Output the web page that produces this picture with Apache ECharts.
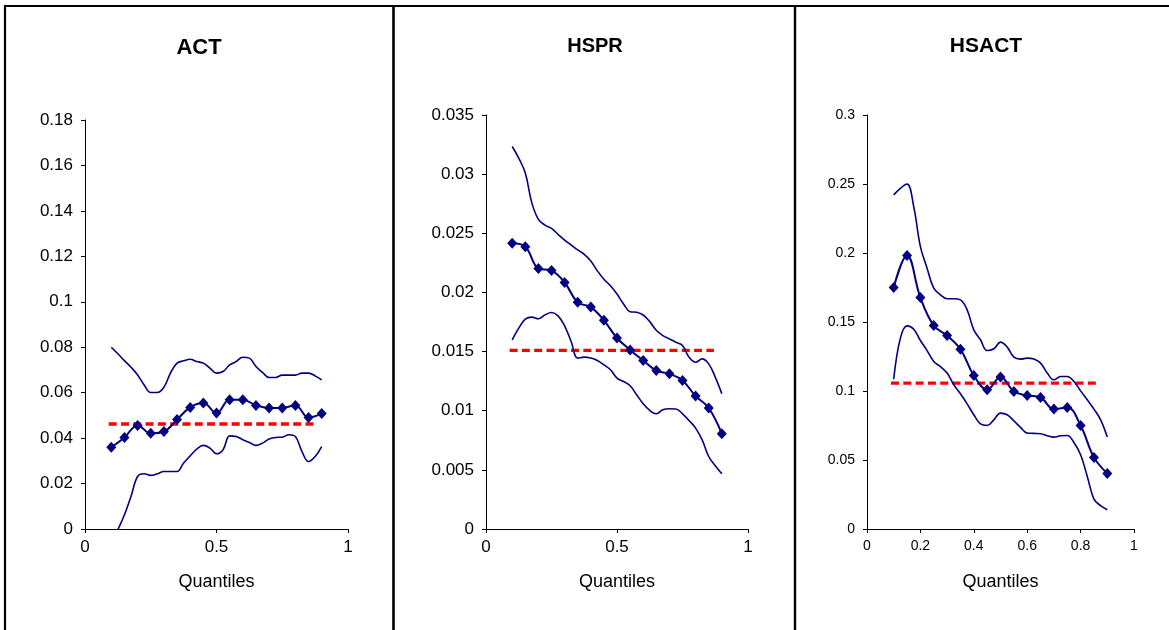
<!DOCTYPE html>
<html>
<head>
<meta charset="utf-8">
<script src="https://cdn.jsdelivr.net/npm/echarts@6/dist/echarts.min.js"></script>
<style>
html,body{margin:0;padding:0;background:#fff;}
#chart{width:1169px;height:630px;}
</style>
</head>
<body>
<div id="chart"></div>
<script>
// ---- data ----
const panelTitles = ['ACT', 'HSPR', 'HSACT'];
const xAxisName = 'Quantiles';

const quantiles = [0.1, 0.15, 0.2, 0.25, 0.3, 0.35, 0.4, 0.45, 0.5, 0.55, 0.6, 0.65, 0.7, 0.75, 0.8, 0.85, 0.9];
const bandQuantiles = [0.1, 0.125, 0.15, 0.175, 0.2, 0.225, 0.25, 0.275, 0.3, 0.325, 0.35, 0.375, 0.4, 0.425, 0.45, 0.475, 0.5, 0.525, 0.55, 0.575, 0.6, 0.625, 0.65, 0.675, 0.7, 0.725, 0.75, 0.775, 0.8, 0.825, 0.85, 0.875, 0.9];
const meanSpan = [0.09, 0.87];

// ACT
const actEstimate = [0.0360, 0.0403, 0.0456, 0.0421, 0.0429, 0.0482, 0.0535, 0.0554, 0.0510, 0.0569, 0.0569, 0.0544, 0.0533, 0.0533, 0.0544, 0.0491, 0.0508];
const actUpper = [0.0800, 0.0771, 0.0741, 0.0712, 0.0678, 0.0634, 0.0601, 0.0601, 0.0624, 0.0686, 0.0730, 0.0740, 0.0747, 0.0737, 0.0730, 0.0708, 0.0686, 0.0693, 0.0722, 0.0737, 0.0756, 0.0752, 0.0715, 0.0689, 0.0667, 0.0667, 0.0677, 0.0677, 0.0677, 0.0686, 0.0686, 0.0674, 0.0656];
const actLower = [-0.0060, -0.0003, 0.0063, 0.0144, 0.0231, 0.0243, 0.0236, 0.0243, 0.0253, 0.0253, 0.0253, 0.0290, 0.0322, 0.0352, 0.0368, 0.0356, 0.0331, 0.0349, 0.0410, 0.0407, 0.0393, 0.0381, 0.0368, 0.0378, 0.0396, 0.0403, 0.0404, 0.0415, 0.0407, 0.0341, 0.0297, 0.0319, 0.0363];
const actMean = 0.0462;

// HSPR
const hsprEstimate = [0.02415, 0.02387, 0.02202, 0.02185, 0.02084, 0.01916, 0.01876, 0.01764, 0.01615, 0.01514, 0.01425, 0.01340, 0.01312, 0.01256, 0.01124, 0.01023, 0.00805];
const hsprUpper = [0.03234, 0.03135, 0.03009, 0.02757, 0.02617, 0.02569, 0.02541, 0.02491, 0.02443, 0.02401, 0.02359, 0.02322, 0.02266, 0.02182, 0.02112, 0.02056, 0.01986, 0.01902, 0.01837, 0.01832, 0.01809, 0.01753, 0.01680, 0.01635, 0.01607, 0.01579, 0.01551, 0.01452, 0.01410, 0.01438, 0.01396, 0.01284, 0.01144];
const hsprLower = [0.01599, 0.01698, 0.01774, 0.01791, 0.01777, 0.01810, 0.01830, 0.01802, 0.01718, 0.01585, 0.01445, 0.01453, 0.01445, 0.01424, 0.01388, 0.01346, 0.01276, 0.01247, 0.01211, 0.01135, 0.01059, 0.01002, 0.00974, 0.01008, 0.01016, 0.01014, 0.00974, 0.00917, 0.00853, 0.00754, 0.00613, 0.00535, 0.00467];
const hsprMean = 0.0151;

// HSACT
const hsactEstimate = [0.1750, 0.1981, 0.1677, 0.1474, 0.1402, 0.1303, 0.1112, 0.1009, 0.1101, 0.0997, 0.0968, 0.0953, 0.0869, 0.0881, 0.0750, 0.0519, 0.0403];
const hsactUpper = [0.2421, 0.2469, 0.2500, 0.2336, 0.2046, 0.1890, 0.1745, 0.1697, 0.1668, 0.1668, 0.1660, 0.1588, 0.1443, 0.1371, 0.1293, 0.1306, 0.1354, 0.1318, 0.1245, 0.1231, 0.1238, 0.1231, 0.1202, 0.1130, 0.1081, 0.1105, 0.1105, 0.1069, 0.1001, 0.0936, 0.0869, 0.0791, 0.0666];
const hsactLower = [0.1086, 0.1383, 0.1472, 0.1448, 0.1366, 0.1293, 0.1214, 0.1177, 0.1130, 0.1045, 0.0980, 0.0907, 0.0828, 0.0762, 0.0750, 0.0791, 0.0840, 0.0828, 0.0784, 0.0736, 0.0695, 0.0693, 0.0690, 0.0676, 0.0666, 0.0676, 0.0678, 0.0627, 0.0538, 0.0381, 0.0217, 0.0169, 0.0140];
const hsactMean = 0.1057;

// axis settings (tick labels)
const yMax = [0.18, 0.035, 0.3];
const yStep = [0.02, 0.005, 0.05];
const xStep = [0.5, 0.5, 0.2];

// ---- build ----
const NAVY = '#000080';
const FONT = '"Liberation Sans", Arial, sans-serif';
const pairs = (xs, ys) => xs.map((x, i) => [x, ys[i]]);

const panels = [
  {est: actEstimate, up: actUpper, lo: actLower, mean: actMean},
  {est: hsprEstimate, up: hsprUpper, lo: hsprLower, mean: hsprMean},
  {est: hsactEstimate, up: hsactUpper, lo: hsactLower, mean: hsactMean}
];

const grids = [
  {left: 85, top: 120, width: 263, height: 409},
  {left: 486, top: 115, width: 262, height: 414},
  {left: 867, top: 115, width: 267, height: 414}
];
const tickFont = [17, 17, 14];

const xAxes = [], yAxes = [], series = [];
panels.forEach((p, i) => {
  xAxes.push({
    type: 'value', gridIndex: i, min: 0, max: 1, interval: xStep[i],
    name: xAxisName, nameLocation: 'middle', nameGap: 44,
    nameTextStyle: {fontFamily: FONT, fontSize: 18, color: '#000'},
    axisLine: {show: true, onZero: false, lineStyle: {color: '#000', width: 1}},
    axisTick: {show: true, length: 4, lineStyle: {color: '#000'}},
    axisLabel: {fontFamily: FONT, fontSize: tickFont[i], color: '#000', margin: 10},
    splitLine: {show: false}
  });
  yAxes.push({
    type: 'value', gridIndex: i, min: 0, max: yMax[i], interval: yStep[i],
    axisLine: {show: true, lineStyle: {color: '#000', width: 1}},
    axisTick: {show: true, length: 4, lineStyle: {color: '#000'}},
    axisLabel: {fontFamily: FONT, fontSize: tickFont[i], color: '#000', margin: 12},
    splitLine: {show: false}
  });
  const common = {xAxisIndex: i, yAxisIndex: i, type: 'line', animation: false, silent: true, clip: true};
  series.push(Object.assign({}, common, {
    data: pairs(bandQuantiles, p.up), smooth: 0.4, showSymbol: false, symbol: 'none',
    lineStyle: {color: NAVY, width: 1.6}
  }));
  series.push(Object.assign({}, common, {
    data: pairs(bandQuantiles, p.lo), smooth: 0.4, showSymbol: false, symbol: 'none',
    lineStyle: {color: NAVY, width: 1.6}
  }));
  series.push(Object.assign({}, common, {
    data: meanSpan.map(x => [x, p.mean]), symbol: 'none',
    lineStyle: {color: '#FF0000', width: 3.3, type: [8, 4.3], cap: 'butt'}, z: 1
  }));
  series.push(Object.assign({}, common, {
    data: pairs(quantiles, p.est), smooth: 0.4, symbol: 'diamond', symbolSize: [10, 11], showSymbol: true,
    itemStyle: {color: NAVY}, lineStyle: {color: NAVY, width: 2}, z: 3
  }));
});

const titleX = [199, 595, 986];
const titleSize = [22, 20, 21];
const graphics = [];
panelTitles.forEach((t, i) => {
  graphics.push({
    type: 'text', x: titleX[i], y: i === 0 ? 48 : 46, silent: true,
    style: {text: t, font: 'bold ' + titleSize[i] + 'px ' + FONT, fill: '#000',
      align: 'center', verticalAlign: 'middle', textAlign: 'center', textVerticalAlign: 'middle'}
  });
});
// panel borders
const borderStyle = {stroke: '#000', lineWidth: 2.2};
graphics.push({type: 'line', shape: {x1: 4, y1: 6, x2: 1169, y2: 6}, style: borderStyle, silent: true});
graphics.push({type: 'line', shape: {x1: 5, y1: 5, x2: 5, y2: 630}, style: borderStyle, silent: true});
graphics.push({type: 'line', shape: {x1: 393.5, y1: 5, x2: 393.5, y2: 630}, style: {stroke: '#000', lineWidth: 2.6}, silent: true});
graphics.push({type: 'line', shape: {x1: 795, y1: 5, x2: 795, y2: 630}, style: {stroke: '#000', lineWidth: 2.4}, silent: true});

const chart = echarts.init(document.getElementById('chart'), null, {renderer: 'canvas'});
chart.setOption({
  backgroundColor: '#fff',
  animation: false,
  grid: grids,
  xAxis: xAxes,
  yAxis: yAxes,
  series: series,
  graphic: graphics
});
</script>
</body>
</html>
